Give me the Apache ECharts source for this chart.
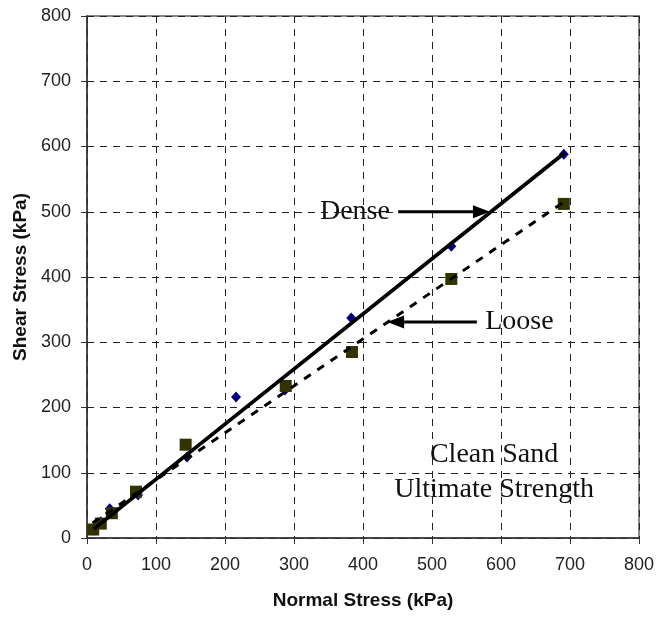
<!DOCTYPE html>
<html>
<head>
<meta charset="utf-8">
<script src="https://cdn.jsdelivr.net/npm/echarts@6/dist/echarts.min.js"></script>
<style>html,body{margin:0;padding:0;background:#fff;}#c{width:660px;height:617px;}</style>
</head>
<body>
<div id="c"></div>
<script>
// ---- data ----
const xTicks = [0, 100, 200, 300, 400, 500, 600, 700, 800];
const yTicks = [0, 100, 200, 300, 400, 500, 600, 700, 800];

const denseX = [10, 20, 33, 74, 145, 216, 287, 383, 528, 691];
const denseY = [12, 25, 45, 66, 124, 216, 227, 337, 447, 588];

const looseX = [9, 20, 36, 71, 143, 288, 384, 528, 691];
const looseY = [13, 22, 38, 71, 143, 233, 285, 397, 512];

// fitted lines as drawn in the reference (end points)
const denseFitX = [10, 692];
const denseFitY = [14, 590];
const looseFitX = [8, 690];
const looseFitY = [23, 514];

// annotations (data coordinates)
const denseLabel = { text: 'Dense', x: 439, y: 500 };
const denseArrow = { x1: 451, x2: 584, y: 500 };
const looseLabel = { text: 'Loose', x: 577, y: 331 };
const looseArrow = { x1: 565, x2: 435, y: 331 };
const noteLines = ['Clean Sand', 'Ultimate Strength'];
const notePos = { x: 590, y1: 127, y2: 74 };

const zip = (a, b) => a.map((v, i) => [v, b[i]]);

const chart = echarts.init(document.getElementById('c'), null, { renderer: 'canvas' });

const axisCommon = {
  type: 'value',
  min: xTicks[0],
  max: xTicks[xTicks.length - 1],
  interval: 100,
  axisLine: { show: true, onZero: false, lineStyle: { color: '#333', width: 1.5 } },
  axisTick: { show: true, inside: false, length: 6, lineStyle: { color: '#333', width: 1 } },
  splitLine: { show: true, lineStyle: { color: '#222', width: 1, type: [7, 6] } },
  axisLabel: { color: '#222', fontSize: 18, fontFamily: 'Liberation Sans, Arial, sans-serif' },
  nameLocation: 'middle',
  nameTextStyle: { color: '#111', fontSize: 19, fontWeight: 'bold', fontFamily: 'Liberation Sans, Arial, sans-serif' }
};

chart.setOption({
  animation: false,
  backgroundColor: '#fff',
  grid: { left: 87, right: 21, top: 16, bottom: 79, show: true, borderColor: '#888', borderWidth: 2, backgroundColor: 'transparent' },
  xAxis: Object.assign({}, axisCommon, {
    name: 'Normal Stress (kPa)', nameGap: 53,
    axisLabel: Object.assign({}, axisCommon.axisLabel, { margin: 18 })
  }),
  yAxis: Object.assign({}, axisCommon, {
    min: yTicks[0], max: yTicks[yTicks.length - 1],
    name: 'Shear Stress (kPa)', nameGap: 57,
    axisLabel: Object.assign({}, axisCommon.axisLabel, { margin: 16 })
  }),
  series: [
    {
      type: 'scatter', name: 'Dense', data: zip(denseX, denseY), symbol: 'diamond', symbolSize: [10, 11],
      itemStyle: { color: '#000080', opacity: 1 }, z: 3
    },
    {
      type: 'scatter', name: 'Loose', data: zip(looseX, looseY), symbol: 'rect', symbolSize: 12,
      itemStyle: { color: '#333300', opacity: 1 }, z: 3
    },
    {
      type: 'line', name: 'Dense fit', data: zip(denseFitX, denseFitY), showSymbol: false, symbol: 'none',
      lineStyle: { color: '#000', width: 3.8, type: 'solid' }, z: 4
    },
    {
      type: 'line', name: 'Loose fit', data: zip(looseFitX, looseFitY), showSymbol: false, symbol: 'none',
      lineStyle: { color: '#000', width: 3, type: [8, 8] }, z: 4
    }
  ]
});

function px(x, y) { return chart.convertToPixel({ gridIndex: 0 }, [x, y]); }

function arrow(x1, x2, y) {
  const a = px(x1, y), b = px(x2, y);
  const dir = Math.sign(b[0] - a[0]);
  const headL = 17, headW = 6.5;
  const base = b[0] - dir * headL;
  return [
    { type: 'line', shape: { x1: a[0], y1: a[1], x2: base, y2: b[1] }, style: { stroke: '#000', lineWidth: 3 }, z: 10 },
    { type: 'polygon', shape: { points: [[b[0], b[1]], [base, b[1] - headW], [base, b[1] + headW]] }, style: { fill: '#000' }, z: 10 }
  ];
}

const serif = 'Liberation Serif, Times New Roman, serif';
const dL = px(denseLabel.x, denseLabel.y);
const lL = px(looseLabel.x, looseLabel.y);
const n1 = px(notePos.x, notePos.y1);
const n2 = px(notePos.x, notePos.y2);

chart.setOption({
  graphic: [
    { type: 'text', x: dL[0], y: dL[1], style: { text: denseLabel.text, font: '28px ' + serif, fill: '#111', align: 'right', verticalAlign: 'middle' }, z: 10 },
    { type: 'text', x: lL[0], y: lL[1], style: { text: looseLabel.text, font: '28px ' + serif, fill: '#111', align: 'left', verticalAlign: 'middle' }, z: 10 },
    { type: 'text', x: n1[0], y: n1[1], style: { text: noteLines[0], font: '28px ' + serif, fill: '#111', align: 'center', verticalAlign: 'middle' }, z: 10 },
    { type: 'text', x: n2[0], y: n2[1], style: { text: noteLines[1], font: '28px ' + serif, fill: '#111', align: 'center', verticalAlign: 'middle' }, z: 10 }
  ].concat(arrow(denseArrow.x1, denseArrow.x2, denseArrow.y), arrow(looseArrow.x1, looseArrow.x2, looseArrow.y))
});
</script>
</body>
</html>
